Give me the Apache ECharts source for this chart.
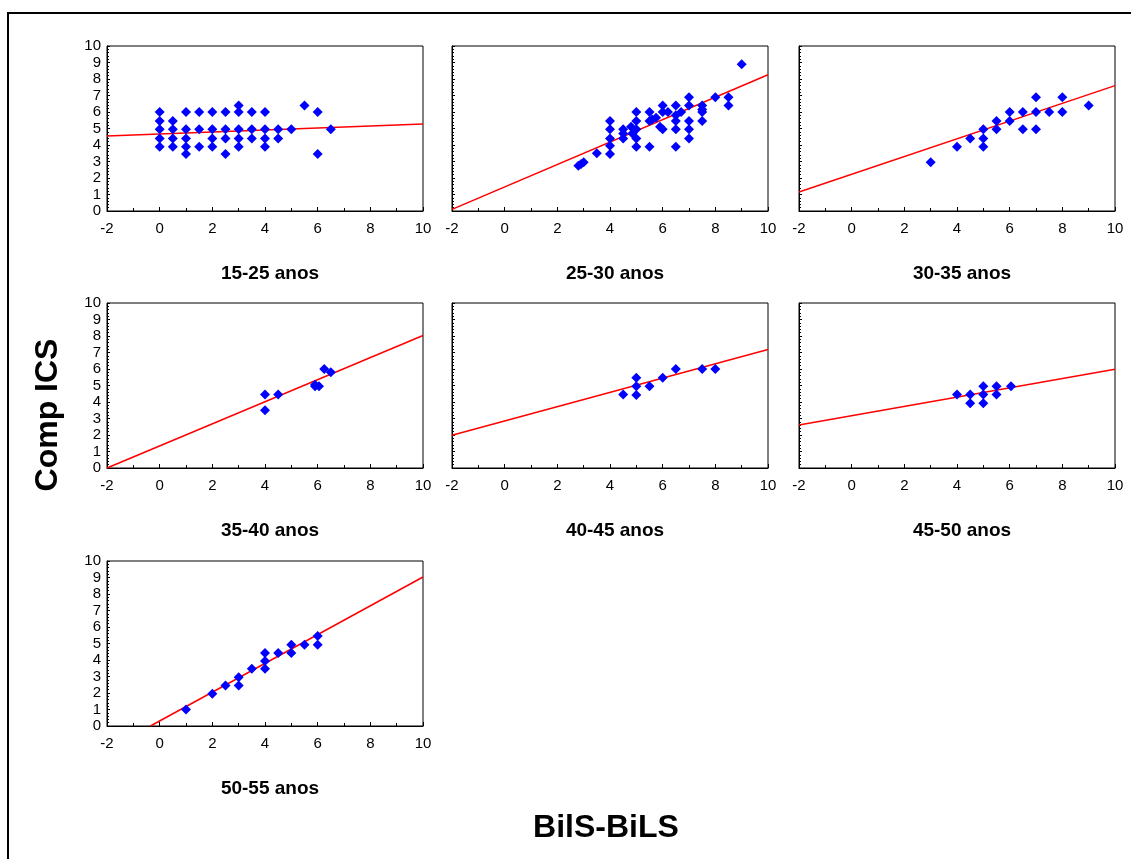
<!DOCTYPE html>
<html>
<head>
<meta charset="utf-8">
<title>Comp ICS vs BilS-BiLS por faixa etária</title>
<script src="https://cdn.jsdelivr.net/npm/echarts@6/dist/echarts.min.js"></script>
<style>
  html, body { margin: 0; padding: 0; background: #fff; }
  #chart { width: 1131px; height: 859px; }
</style>
</head>
<body>
<div id="chart"></div>
<script>
// Age-group panels
const groups = ['15-25 anos', '25-30 anos', '30-35 anos', '35-40 anos', '40-45 anos', '45-50 anos', '50-55 anos'];

// Observed points [BilS-BiLS, Comp ICS] per age group
const pts1525 = [
  [0, 6], [0, 5.45], [0, 4.95], [0, 4.4], [0, 3.9],
  [0.5, 5.45], [0.5, 4.95], [0.5, 4.4], [0.5, 3.9],
  [1, 6], [1, 4.95], [1, 4.4], [1, 3.9], [1, 3.45],
  [1.5, 6], [1.5, 4.95], [1.5, 3.9],
  [2, 6], [2, 4.95], [2, 4.4], [2, 3.9],
  [2.5, 6], [2.5, 4.95], [2.5, 4.4], [2.5, 3.45],
  [3, 6.4], [3, 6], [3, 4.95], [3, 4.4], [3, 3.9],
  [3.5, 6], [3.5, 4.95], [3.5, 4.4],
  [4, 6], [4, 4.95], [4, 4.4], [4, 3.9],
  [4.5, 4.95], [4.5, 4.4],
  [5, 4.95],
  [5.5, 6.4],
  [6, 6], [6, 3.45],
  [6.5, 4.95]
];
const pts2530 = [
  [2.8, 2.75], [2.9, 2.85], [3, 2.95], [3.5, 3.5],
  [4, 5.45], [4, 4.95], [4, 4.4], [4, 3.95], [4, 3.45],
  [4.5, 4.95], [4.5, 4.7], [4.5, 4.4],
  [4.8, 5.1], [4.85, 4.7],
  [5, 6], [5, 5.45], [5, 4.95], [5, 4.4], [5, 3.9],
  [5.5, 6], [5.5, 5.45], [5.5, 3.9], [5.6, 5.55], [5.75, 5.65],
  [6, 6.4], [6, 6], [5.9, 5.1], [6, 4.95], [6.2, 6],
  [6.5, 6.4], [6.5, 5.8], [6.5, 5.45], [6.5, 4.95], [6.5, 3.9], [6.7, 6],
  [7, 6.9], [7, 6.4], [7, 5.45], [7, 4.95], [7, 4.4],
  [7.5, 6.4], [7.5, 6.15], [7.5, 6], [7.5, 5.45],
  [8, 6.9], [8.5, 6.9], [8.5, 6.4], [9, 8.9]
];
const pts3035 = [
  [3, 2.95], [4, 3.9], [4.5, 4.4],
  [5, 4.95], [5, 4.4], [5, 3.9],
  [5.5, 5.45], [5.5, 4.95],
  [6, 6], [6, 5.45],
  [6.5, 6], [6.5, 4.95],
  [7, 6.9], [7, 6], [7, 4.95],
  [7.5, 6], [8, 6.9], [8, 6], [9, 6.4]
];
const pts3540 = [
  [4, 4.45], [4, 3.5], [4.5, 4.45],
  [5.9, 5.05], [5.9, 4.95], [6.05, 4.95],
  [6.25, 6], [6.5, 5.8]
];
const pts4045 = [
  [4.5, 4.45], [5, 5.47], [5, 4.95], [5, 4.43],
  [5.5, 4.95], [6, 5.47], [6.5, 6], [7.5, 6], [8, 6]
];
const pts4550 = [
  [4, 4.45], [4.5, 4.45], [4.5, 3.92],
  [5, 4.95], [5, 4.45], [5, 3.92],
  [5.5, 4.95], [5.5, 4.45], [6.05, 4.95]
];
const pts5055 = [
  [1, 1], [2, 1.95], [2.5, 2.45], [3, 2.95], [3, 2.45],
  [3.5, 3.47], [4, 4.42], [4, 3.94], [4, 3.47],
  [4.5, 4.42], [5, 4.93], [5, 4.42], [5.5, 4.93],
  [6, 5.45], [6, 4.93]
];
const points = [pts1525, pts2530, pts3035, pts3540, pts4045, pts4550, pts5055];

// Fitted regression lines, as end points within each panel
const fit1525 = [[-2, 4.55], [10, 5.28]];
const fit2530 = [[-2, 0.1], [10, 8.26]];
const fit3035 = [[-2, 1.15], [10, 7.6]];
const fit3540 = [[-2, 0.0], [10, 8.03]];
const fit4045 = [[-2, 1.99], [10, 7.18]];
const fit4550 = [[-2, 2.6], [10, 5.98]];
const fit5055 = [[-0.35, 0.0], [10, 9.03]];
const fits = [fit1525, fit2530, fit3035, fit3540, fit4045, fit4550, fit5055];

// Axis ranges and tick steps
const xRange = [-2, 10];
const xStep = 2;
const yRange = [0, 10];
const yStep = 1;

// Titles of the shared axes
const yTitle = 'Comp ICS';
const xTitle = 'BilS-BiLS';

// Panel layout (pixels)
const colLeft = [107, 452, 799];
const rowTop = [46, 303, 561];
const plotW = 316;
const plotH = 165;

const FONT = '"Liberation Sans", Arial, sans-serif';

const grids = [], xAxes = [], yAxes = [], series = [], titles = [];

groups.forEach((name, i) => {
  const col = i % 3;
  const row = Math.floor(i / 3);
  const left = colLeft[col];
  const top = rowTop[row];
  grids.push({
    left: left, top: top, width: plotW, height: plotH,
    show: true, borderColor: '#000', borderWidth: 1, backgroundColor: 'transparent'
  });
  xAxes.push({
    gridIndex: i, type: 'value', min: xRange[0], max: xRange[1], interval: xStep,
    axisLine: { show: true, onZero: false, lineStyle: { color: '#000', width: 1 } },
    axisTick: { show: true, inside: true, length: 4, lineStyle: { color: '#000' } },
    minorTick: { show: true, splitNumber: 2, length: 3, lineStyle: { color: '#000' } },
    splitLine: { show: false },
    axisLabel: { color: '#000', fontFamily: FONT, fontSize: 15, margin: 10 }
  });
  yAxes.push({
    gridIndex: i, type: 'value', min: yRange[0], max: yRange[1], interval: yStep,
    axisLine: { show: true, onZero: false, lineStyle: { color: '#000', width: 1 } },
    axisTick: { show: true, inside: true, length: 3, lineStyle: { color: '#000' } },
    minorTick: { show: true, splitNumber: 5, length: 2, lineStyle: { color: '#000' } },
    splitLine: { show: false },
    axisLabel: { show: col === 0, color: '#000', fontFamily: FONT, fontSize: 15, margin: 6 }
  });
  series.push({
    type: 'line', xAxisIndex: i, yAxisIndex: i,
    data: fits[i], symbol: 'none', silent: true, animation: false,
    lineStyle: { color: '#ff0000', width: 1.5 }, z: 2
  });
  series.push({
    type: 'scatter', xAxisIndex: i, yAxisIndex: i,
    data: points[i], symbol: 'diamond', symbolSize: 10, animation: false,
    itemStyle: { color: '#0000ff', opacity: 1 }, z: 3
  });
  titles.push({
    text: name, left: left + plotW / 2, top: top + plotH + 48, textAlign: 'center',
    textStyle: { fontFamily: FONT, fontSize: 19, fontWeight: 'bold', color: '#000' }
  });
});

titles.push({
  text: xTitle, left: 601, top: 807, textAlign: 'center',
  textStyle: { fontFamily: FONT, fontSize: 32, fontWeight: 'bold', color: '#000' }
});

const chart = echarts.init(document.getElementById('chart'), null, { renderer: 'canvas' });
chart.setOption({
  backgroundColor: '#fff',
  animation: false,
  title: titles,
  grid: grids,
  xAxis: xAxes,
  yAxis: yAxes,
  series: series,
  graphic: [
    {
      type: 'rect', silent: true, z: 0,
      shape: { x: 8, y: 13, width: 1140, height: 870 },
      style: { fill: 'none', stroke: '#000', lineWidth: 2 }
    },
    {
      type: 'text', silent: true, x: 48, y: 415, rotation: Math.PI / 2,
      style: {
        text: yTitle, fill: '#000', font: 'bold 32px "Liberation Sans", Arial, sans-serif',
        align: 'center', verticalAlign: 'middle'
      }
    }
  ]
});
</script>
</body>
</html>
